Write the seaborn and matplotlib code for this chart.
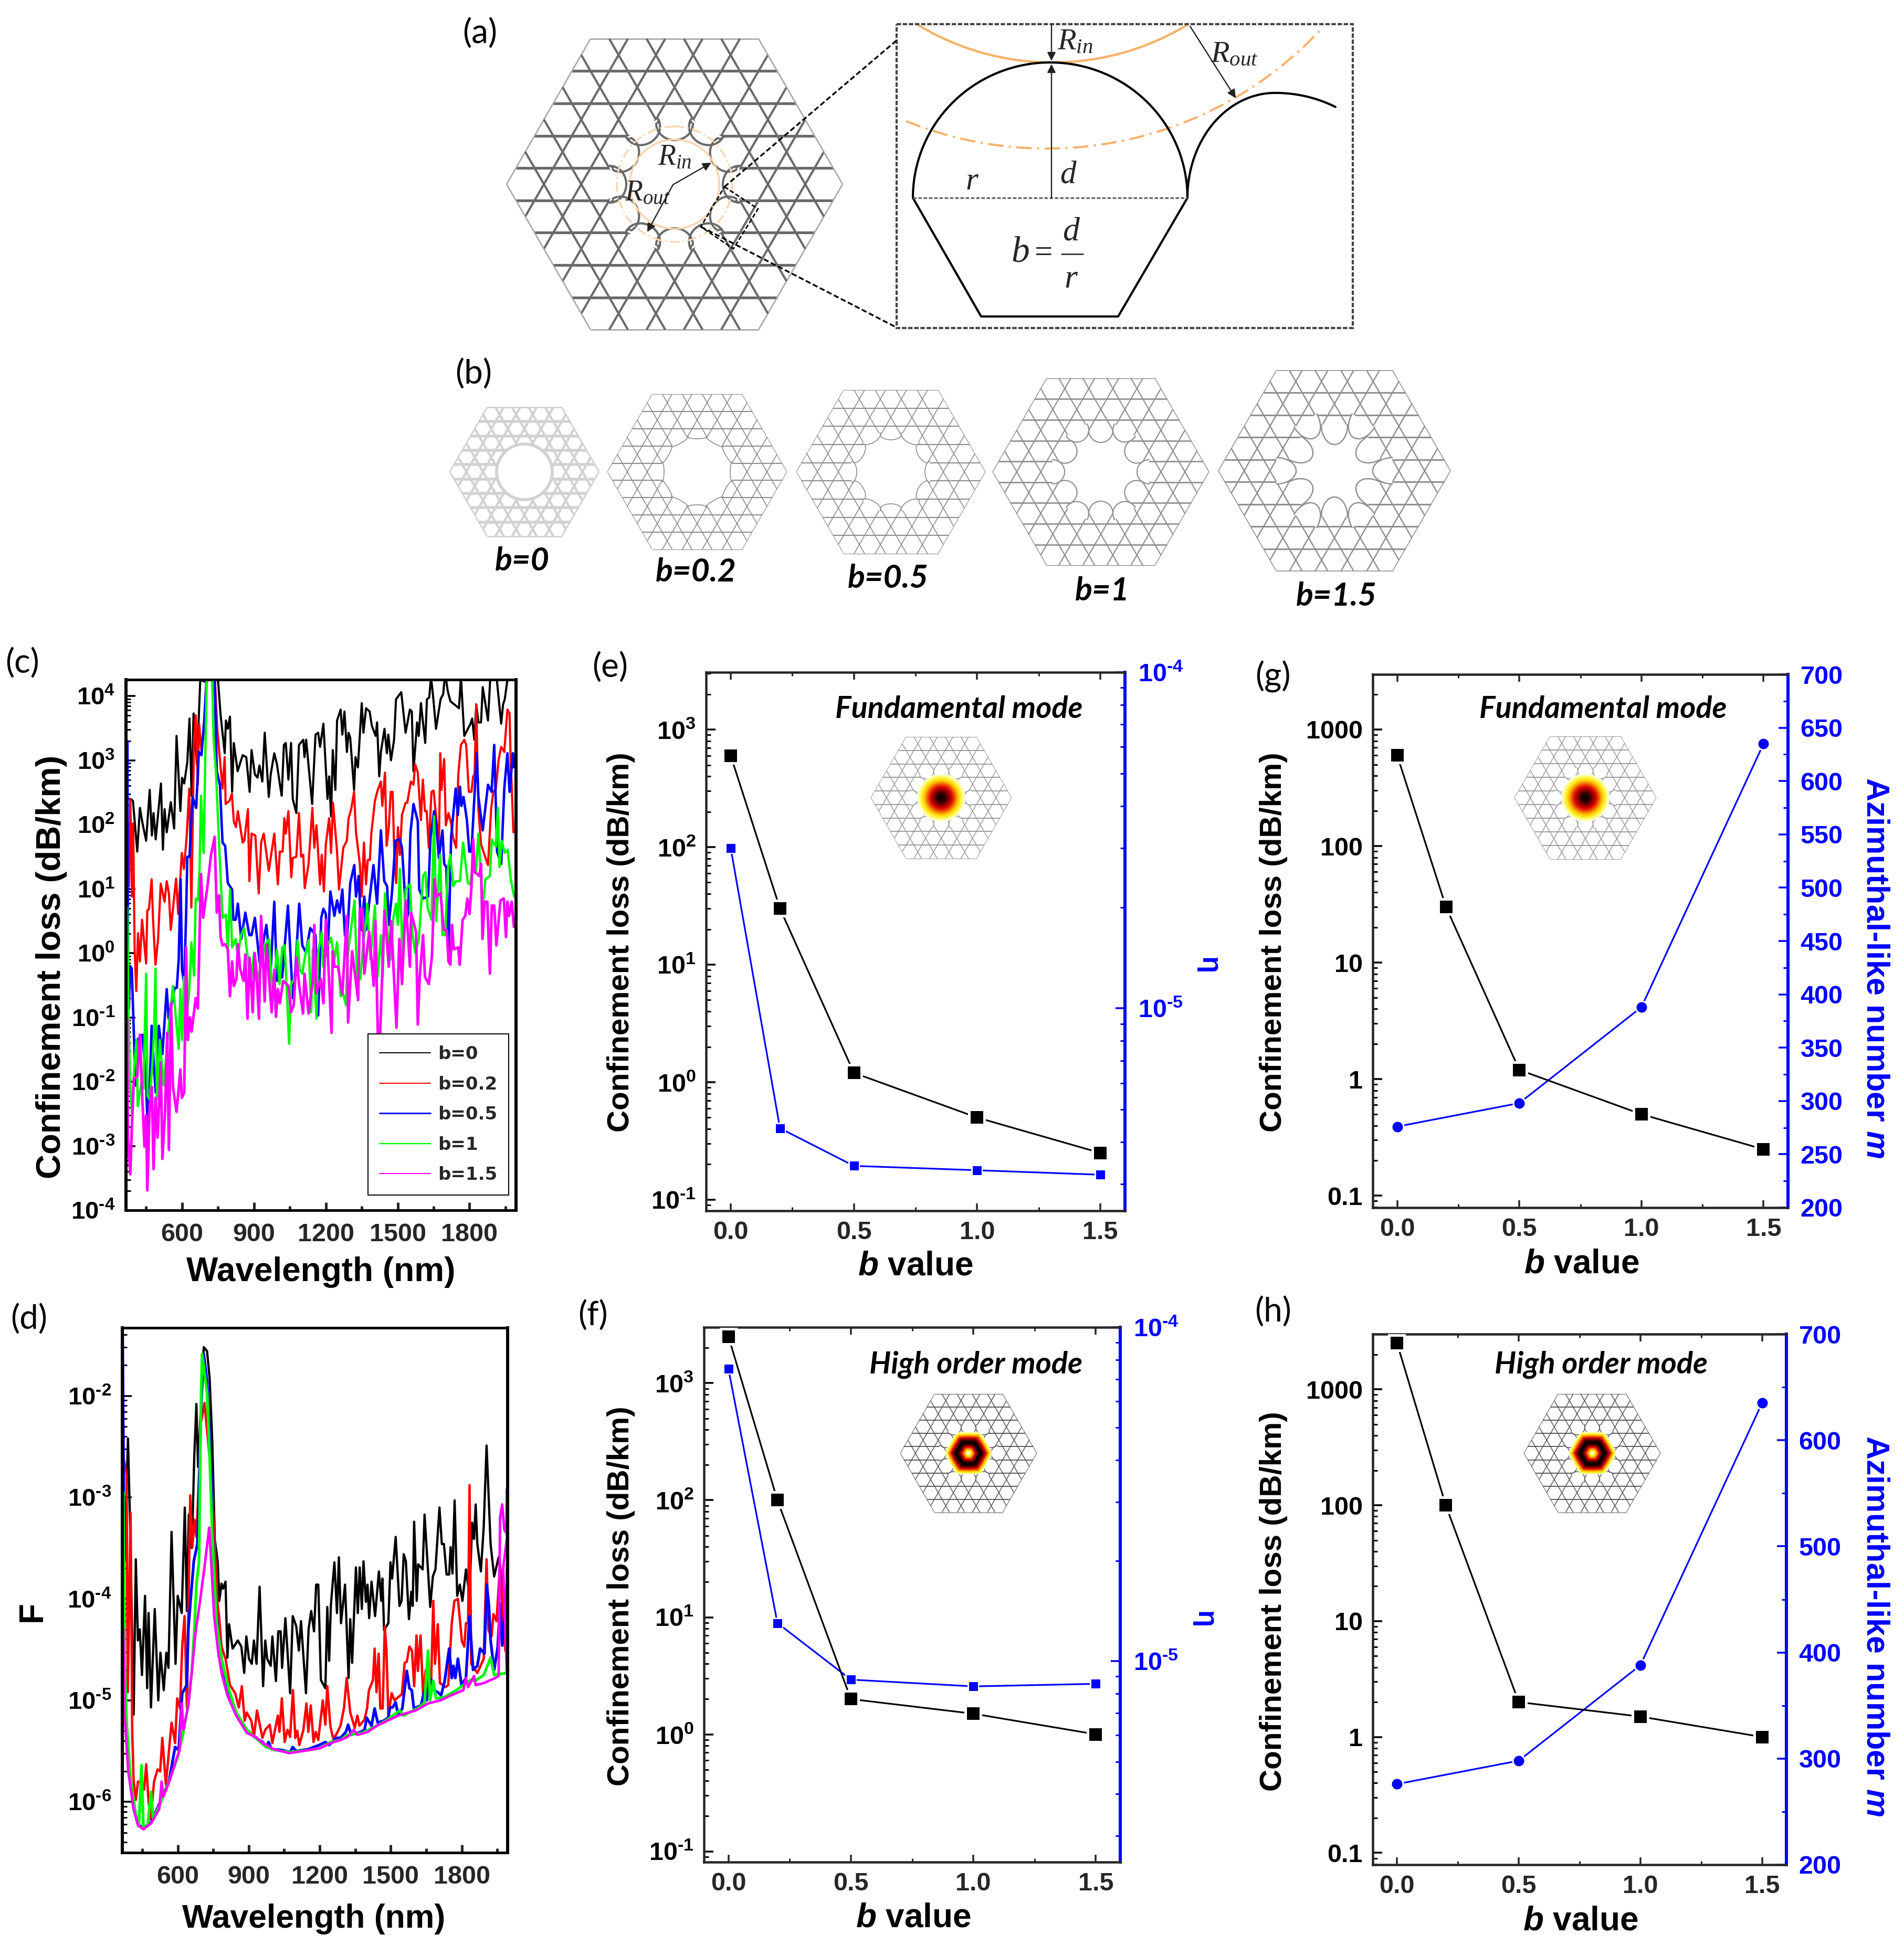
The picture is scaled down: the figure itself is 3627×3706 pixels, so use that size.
import numpy as np
import matplotlib
matplotlib.use("Agg")
import matplotlib.pyplot as plt
import seaborn as sns
from matplotlib.collections import LineCollection
from matplotlib.colors import LinearSegmentedColormap
from matplotlib.patches import Circle, Rectangle, Polygon
from matplotlib.ticker import FixedLocator, FuncFormatter, LogLocator, MultipleLocator, NullFormatter

# ------------------------------------------------------------------ data
# (wavelength nm, log10 of the value)
c_b0 = [(370,2.40),(385,2.40),(395,2.37),(413,1.58),(424,2.26),(435,2.02),(450,1.75),(465,2.54),(474,1.83),(481,2.18),(490,1.77),(512,2.64),(520,1.61),(527,2.24),(536,1.88),(553,2.35),(567,1.94),(577,3.38),(593,2.21),(600,2.73),(609,2.64),(622,2.97),(631,3.65),(640,2.45),(648,3.73),(662,2.94),(676,4.25),(699,4.22),(736,4.36),(750,4.25),(761,3.70),(778,3.11),(783,3.62),(791,3.49),(800,3.68),(809,2.51),(816,3.27),(832,2.83),(853,3.08),(868,3.05),(882,2.51),(890,3.16),(904,2.78),(915,2.73),(923,2.92),(935,2.67),(945,3.43),(962,2.43),(970,2.78),(985,3.11),(996,2.94),(1011,2.56),(1016,2.45),(1025,3.24),(1033,3.27),(1044,2.70),(1055,3.27),(1062,2.40),(1077,2.18),(1088,3.24),(1106,3.32),(1111,3.05),(1118,3.32),(1143,2.32),(1157,3.40),(1168,3.43),(1176,3.21),(1190,3.57),(1207,2.40),(1214,2.75),(1222,2.13),(1229,3.16),(1240,2.54),(1247,3.62),(1262,3.79),(1269,3.40),(1278,3.76),(1288,3.13),(1295,3.43),(1302,3.35),(1318,2.54),(1324,3.05),(1334,2.89),(1350,3.89),(1357,3.43),(1368,3.81),(1383,3.76),(1392,3.54),(1408,3.38),(1414,3.59),(1423,2.75),(1430,3.13),(1445,3.49),(1455,3.11),(1461,3.40),(1472,3.00),(1485,3.32),(1493,3.95),(1515,4.06),(1533,3.43),(1551,3.79),(1559,3.76),(1566,2.83),(1581,3.59),(1588,3.38),(1597,3.89),(1615,3.27),(1622,3.95),(1632,3.98),(1639,4.30),(1647,4.03),(1660,3.49),(1679,3.95),(1690,4.03),(1698,4.36),(1709,4.08),(1720,3.92),(1756,3.81),(1764,4.30),(1778,3.38),(1804,3.57),(1811,3.65),(1820,3.32),(1828,3.87),(1837,3.59),(1848,3.59),(1855,4.14),(1877,3.62),(1886,4.25),(1896,4.36),(1914,4.25),(1932,3.57),(1940,3.87),(1947,3.95),(1962,4.36),(1990,4.40)]
c_b02 = [(370,1.20),(378,1.04),(384,2.40),(391,0.88),(396,2.02),(402,0.06),(409,-0.59),(416,0.31),(424,-0.13),(433,0.52),(450,-0.16),(455,0.66),(462,0.69),(473,1.15),(479,0.52),(489,-0.18),(500,0.22),(511,1.08),(527,0.80),(536,1.12),(545,0.93),(553,0.36),(575,1.16),(584,0.61),(599,1.56),(608,1.31),(619,1.80),(630,2.56),(639,0.71),(650,3.32),(657,3.70),(666,2.62),(671,3.57),(681,3.16),(692,3.49),(706,4.36),(736,4.36),(747,3.49),(761,2.89),(769,2.56),(778,3.05),(782,2.32),(798,2.37),(808,2.48),(816,2.05),(825,1.96),(833,2.21),(853,1.72),(860,1.75),(875,2.24),(881,1.12),(890,1.86),(906,1.83),(920,0.93),(930,1.72),(941,1.86),(962,1.28),(985,1.86),(1000,1.07),(1008,1.58),(1020,1.58),(1027,2.10),(1033,1.86),(1044,2.21),(1056,1.18),(1062,1.48),(1077,1.50),(1088,2.18),(1097,1.50),(1106,1.53),(1112,1.01),(1128,1.39),(1144,2.26),(1152,1.64),(1161,1.99),(1176,1.07),(1183,1.53),(1192,0.96),(1200,1.69),(1214,2.10),(1222,1.56),(1230,2.34),(1247,1.58),(1255,0.99),(1273,1.64),(1288,1.75),(1295,2.10),(1306,2.24),(1318,2.51),(1326,1.88),(1342,1.39),(1350,0.88),(1359,1.72),(1368,1.07),(1375,1.45),(1384,1.45),(1390,1.86),(1405,2.37),(1416,2.53),(1430,2.67),(1436,2.29),(1447,2.81),(1454,1.67),(1463,1.96),(1471,2.51),(1479,2.51),(1487,1.39),(1494,1.09),(1501,1.96),(1509,1.53),(1518,2.15),(1533,2.34),(1540,2.34),(1555,2.67),(1566,2.62),(1573,2.94),(1584,2.81),(1597,2.07),(1605,2.70),(1614,2.21),(1621,2.21),(1630,1.64),(1641,2.51),(1650,2.53),(1665,1.96),(1672,1.64),(1678,3.11),(1683,2.54),(1694,3.02),(1701,1.99),(1712,2.18),(1723,2.02),(1731,1.80),(1744,1.64),(1753,2.78),(1764,3.24),(1778,3.32),(1786,3.24),(1797,2.51),(1808,2.51),(1815,2.75),(1821,2.78),(1828,3.87),(1837,2.24),(1848,1.69),(1877,1.37),(1890,2.24),(1899,2.51),(1910,2.56),(1921,3.00),(1932,3.21),(1945,3.13),(1958,3.79),(1967,3.73),(1972,2.94),(1978,2.40),(1983,1.88)]
c_b05 = [(372,3.30),(374,-0.20),(378,-0.86),(383,-0.20),(390,-0.24),(406,-2.06),(413,-1.35),(435,-1.27),(450,-2.00),(456,-2.71),(465,-2.11),(473,-1.13),(483,-1.79),(490,-2.17),(503,-1.13),(518,-1.57),(536,-0.56),(544,-1.02),(569,-0.54),(578,-0.54),(586,-0.10),(594,1.15),(600,-0.26),(609,-0.48),(617,0.61),(622,1.50),(631,1.50),(644,2.43),(659,2.26),(670,3.13),(681,3.08),(692,3.59),(703,4.30),(736,4.30),(745,2.83),(758,2.62),(769,1.72),(780,1.67),(791,1.09),(809,0.99),(814,0.52),(824,0.52),(833,0.77),(847,0.22),(864,0.63),(881,0.28),(890,0.28),(904,0.55),(924,-0.15),(935,0.09),(952,0.44),(970,-0.26),(985,0.80),(996,-0.43),(1018,-0.37),(1042,0.74),(1062,-0.70),(1073,-0.26),(1089,0.77),(1102,0.12),(1117,0.01),(1135,0.39),(1157,0.28),(1168,-0.97),(1181,0.55),(1190,0.69),(1200,0.61),(1207,-0.05),(1219,0.96),(1236,0.58),(1247,0.82),(1258,0.63),(1269,0.99),(1280,0.28),(1288,0.17),(1302,1.09),(1319,1.37),(1326,0.88),(1337,1.20),(1348,0.36),(1361,0.88),(1368,0.36),(1399,1.37),(1414,0.77),(1430,1.91),(1444,1.12),(1456,1.04),(1463,0.44),(1476,0.93),(1491,1.75),(1509,1.77),(1518,1.64),(1537,0.50),(1544,0.63),(1553,1.86),(1566,2.32),(1584,2.05),(1590,0.99),(1606,0.85),(1627,0.88),(1637,1.80),(1652,2.21),(1661,2.02),(1672,1.48),(1687,1.91),(1694,1.39),(1703,1.34),(1712,0.00),(1723,1.80),(1742,2.56),(1751,2.15),(1760,2.59),(1766,2.29),(1775,2.43),(1789,2.07),(1799,1.58),(1808,1.58),(1830,3.11),(1837,2.43),(1855,1.91),(1866,2.26),(1877,2.62),(1892,2.51),(1903,3.24),(1915,1.58),(1932,1.39),(1945,2.56),(1958,3.11),(1967,2.51),(1981,3.11),(1986,2.89)]
c_b1 = [(371,0.71),(377,-1.02),(384,-2.11),(391,-2.49),(400,-1.79),(410,-1.35),(415,-2.38),(432,-1.98),(439,-2.11),(450,-0.32),(456,-2.22),(465,-2.28),(476,-1.73),(483,-1.24),(489,-0.24),(495,-2.28),(507,-1.35),(523,-2.06),(545,-1.13),(562,-0.51),(586,-1.49),(593,-0.56),(600,-1.35),(608,-0.37),(619,-1.02),(630,-0.59),(639,0.17),(650,-0.35),(657,0.85),(666,0.82),(673,1.31),(679,2.45),(690,1.56),(703,4.30),(725,4.36),(732,3.32),(742,2.78),(754,1.75),(769,0.55),(783,0.60),(791,0.06),(800,0.99),(809,0.09),(824,0.22),(833,-0.05),(846,0.28),(859,0.39),(870,0.06),(886,-0.43),(901,0.01),(910,-0.43),(934,-0.15),(945,0.12),(963,0.22),(978,-0.75),(996,0.06),(1007,-0.48),(1018,0.09),(1028,0.12),(1036,-0.48),(1047,-1.41),(1055,-0.48),(1073,-0.37),(1082,0.20),(1091,-0.26),(1102,-0.32),(1113,-0.05),(1128,0.20),(1139,-0.92),(1146,0.06),(1161,-1.02),(1168,0.01),(1183,0.33),(1189,-0.21),(1203,0.06),(1222,0.24),(1236,-0.10),(1247,0.17),(1262,-0.67),(1273,-0.64),(1284,-0.81),(1291,-0.05),(1320,0.82),(1331,-0.45),(1344,-0.40),(1357,0.17),(1368,0.50),(1373,0.77),(1386,-0.10),(1405,0.74),(1416,-0.37),(1430,0.28),(1438,-0.37),(1447,0.93),(1463,0.06),(1471,-0.10),(1482,0.55),(1493,0.77),(1501,0.44),(1509,1.31),(1520,-0.05),(1533,0.99),(1551,1.07),(1562,0.28),(1573,0.01),(1588,0.20),(1606,1.20),(1616,1.26),(1625,0.71),(1641,0.52),(1652,2.13),(1661,0.50),(1677,1.53),(1687,0.28),(1698,0.28),(1709,1.31),(1720,1.53),(1732,1.04),(1742,1.12),(1760,1.12),(1773,1.72),(1793,1.09),(1803,1.07),(1815,1.42),(1826,1.26),(1837,1.86),(1855,0.71),(1866,1.15),(1885,1.20),(1893,1.77),(1910,1.66),(1918,2.26),(1925,1.34),(1934,1.75),(1947,1.56),(1959,1.61),(1972,1.15),(1986,0.88)]
c_b15 = [(371,-1.02),(374,-2.87),(384,-3.44),(391,-2.66),(399,-1.95),(413,-1.92),(424,-1.27),(435,-2.33),(443,-3.01),(450,-2.52),(455,-3.69),(465,-2.38),(474,-2.08),(481,-3.36),(489,-2.25),(498,-2.87),(511,-1.70),(518,-3.20),(529,-2.47),(538,-1.24),(545,-3.06),(554,-0.78),(562,-2.08),(577,-2.47),(593,-1.81),(599,-2.25),(609,-2.17),(617,0.09),(624,-1.35),(633,-1.00),(640,-1.22),(657,-0.70),(666,-0.86),(679,1.23),(688,0.55),(706,1.04),(721,1.53),(736,1.81),(745,0.63),(754,0.90),(761,0.25),(769,0.12),(780,0.14),(791,0.06),(800,-0.67),(809,-0.13),(816,-0.51),(827,-0.40),(833,0.14),(842,-0.24),(857,-0.43),(864,-0.02),(873,-1.02),(882,-0.07),(895,-0.92),(903,0.00),(910,-0.26),(921,-1.02),(930,0.58),(945,-0.75),(952,0.12),(974,-0.92),(985,-0.26),(992,-0.99),(1000,-0.56),(1008,-0.78),(1022,-0.43),(1044,-0.51),(1055,-0.92),(1066,-0.81),(1078,-0.07),(1088,-0.48),(1105,-0.94),(1111,-0.32),(1128,-0.94),(1146,-0.43),(1152,0.44),(1160,-0.62),(1179,-0.40),(1190,-0.78),(1200,0.52),(1211,-0.21),(1224,-1.24),(1229,0.03),(1236,-0.21),(1251,-0.21),(1269,-0.64),(1288,0.58),(1293,-1.08),(1310,0.03),(1335,-0.73),(1342,0.69),(1353,0.69),(1361,-0.32),(1381,0.33),(1400,-0.51),(1407,0.50),(1417,-1.24),(1427,-1.24),(1434,-0.50),(1445,0.66),(1463,-0.21),(1473,0.50),(1495,-1.16),(1507,0.22),(1518,-0.48),(1534,0.82),(1551,-0.21),(1556,0.63),(1577,0.33),(1584,-1.11),(1592,-0.37),(1606,0.28),(1614,-0.37),(1630,-0.48),(1643,-0.05),(1654,1.15),(1661,0.88),(1679,0.93),(1692,0.36),(1705,0.36),(1712,-0.13),(1720,-0.18),(1727,0.44),(1734,0.06),(1753,0.09),(1759,-0.18),(1771,0.52),(1782,0.58),(1791,0.85),(1800,0.61),(1808,1.04),(1815,1.77),(1822,1.26),(1841,1.20),(1848,1.39),(1854,0.22),(1863,0.80),(1874,0.80),(1885,-0.32),(1893,0.74),(1903,0.74),(1912,0.12),(1929,0.82),(1943,0.85),(1952,0.25),(1958,0.80),(1965,0.58),(1976,0.80),(1985,0.41)]

d_b0 = [(376,-3.63),(390,-2.42),(399,-3.29),(414,-5.14),(423,-3.61),(432,-4.41),(440,-4.30),(449,-4.75),(462,-3.97),(471,-4.88),(477,-4.14),(487,-5.07),(503,-4.10),(518,-5.00),(527,-4.53),(541,-4.90),(552,-4.53),(561,-4.68),(574,-3.34),(591,-4.64),(600,-3.97),(617,-4.14),(630,-3.10),(639,-4.12),(647,-3.17),(660,-3.50),(670,-2.60),(679,-2.08),(686,-2.70),(710,-1.52),(724,-1.56),(735,-1.83),(746,-2.44),(757,-3.42),(769,-3.63),(776,-4.02),(785,-3.85),(792,-3.90),(802,-3.83),(810,-4.58),(817,-4.25),(832,-4.49),(854,-4.41),(869,-4.47),(881,-4.73),(890,-4.37),(901,-4.59),(913,-4.64),(922,-4.41),(933,-4.64),(946,-3.88),(961,-4.86),(970,-4.41),(978,-4.59),(993,-4.66),(1000,-4.37),(1015,-4.81),(1025,-4.32),(1035,-4.32),(1041,-4.68),(1055,-4.19),(1075,-4.93),(1086,-4.17),(1101,-4.27),(1112,-4.51),(1121,-4.22),(1142,-4.93),(1153,-4.30),(1164,-4.12),(1176,-4.32),(1185,-3.86),(1194,-3.86),(1205,-4.80),(1224,-4.88),(1232,-4.08),(1240,-4.61),(1247,-4.07),(1262,-3.64),(1273,-4.14),(1281,-3.59),(1290,-4.24),(1307,-3.86),(1322,-4.78),(1329,-4.20),(1337,-4.63),(1353,-3.69),(1361,-4.14),(1369,-3.69),(1378,-4.10),(1385,-3.63),(1395,-4.03),(1402,-3.86),(1409,-4.19),(1419,-3.83),(1434,-4.17),(1450,-3.73),(1460,-4.02),(1465,-3.80),(1472,-4.31),(1490,-4.24),(1499,-3.64),(1506,-3.80),(1521,-3.39),(1537,-4.07),(1546,-4.02),(1555,-3.56),(1564,-3.63),(1577,-4.20),(1587,-3.93),(1593,-4.07),(1599,-3.24),(1610,-4.02),(1616,-3.66),(1635,-3.71),(1643,-3.17),(1667,-4.08),(1678,-3.78),(1689,-3.71),(1706,-3.10),(1716,-3.46),(1725,-3.46),(1736,-3.76),(1747,-3.76),(1753,-3.49),(1761,-3.75),(1770,-3.03),(1781,-3.97),(1792,-3.86),(1803,-4.02),(1818,-3.71),(1833,-3.97),(1844,-3.25),(1852,-3.41),(1859,-3.07),(1866,-3.46),(1881,-3.73),(1893,-3.29),(1905,-2.49),(1922,-3.46),(1937,-3.78),(1956,-3.59),(1975,-3.90),(1990,-4.00)]
d_b02 = [(370,-2.60),(384,-2.77),(389,-4.92),(401,-3.15),(408,-5.32),(414,-5.80),(423,-5.98),(432,-5.80),(440,-5.80),(458,-5.88),(467,-5.63),(477,-6.00),(486,-6.17),(500,-5.80),(515,-5.68),(526,-5.70),(535,-5.37),(550,-5.83),(574,-5.22),(589,-5.42),(598,-4.98),(610,-5.08),(619,-4.47),(629,-4.17),(639,-5.08),(645,-4.14),(653,-2.98),(662,-3.49),(671,-3.22),(679,-3.39),(688,-2.90),(698,-2.27),(713,-2.07),(727,-2.41),(742,-2.78),(754,-3.36),(769,-4.07),(775,-4.17),(785,-4.47),(802,-4.59),(821,-4.85),(843,-4.93),(858,-5.07),(871,-4.86),(883,-5.20),(892,-5.12),(911,-5.20),(922,-5.36),(935,-5.10),(958,-5.37),(970,-5.29),(989,-5.24),(1000,-5.42),(1011,-5.29),(1023,-5.15),(1030,-5.31),(1040,-4.98),(1052,-5.41),(1064,-5.29),(1075,-5.36),(1087,-4.90),(1097,-5.37),(1105,-5.30),(1114,-5.44),(1131,-5.29),(1144,-5.03),(1152,-5.31),(1162,-5.05),(1174,-5.41),(1183,-5.31),(1194,-5.39),(1213,-5.00),(1224,-5.24),(1232,-4.86),(1245,-5.25),(1256,-5.37),(1269,-5.34),(1288,-5.25),(1303,-5.07),(1314,-4.78),(1329,-5.12),(1348,-5.27),(1359,-5.15),(1368,-5.25),(1389,-5.19),(1400,-5.08),(1408,-4.90),(1425,-4.80),(1432,-4.49),(1440,-4.92),(1449,-4.54),(1456,-5.08),(1466,-5.08),(1475,-4.27),(1482,-4.51),(1490,-5.15),(1504,-4.93),(1516,-5.00),(1531,-4.97),(1547,-4.94),(1559,-4.63),(1568,-4.62),(1579,-4.47),(1590,-4.51),(1599,-4.86),(1609,-4.36),(1615,-4.71),(1626,-4.36),(1637,-4.95),(1648,-4.70),(1669,-4.97),(1680,-4.02),(1687,-4.64),(1699,-4.25),(1708,-4.83),(1732,-4.87),(1743,-4.85),(1758,-4.24),(1769,-4.02),(1784,-4.00),(1801,-4.42),(1811,-4.47),(1818,-4.24),(1827,-4.24),(1833,-2.88),(1840,-4.64),(1866,-4.73),(1893,-4.59),(1905,-3.61),(1913,-4.31),(1926,-4.37),(1934,-4.15),(1947,-4.22),(1962,-3.66),(1975,-4.20),(1984,-4.51),(1991,-3.66)]
d_b05 = [(367,-1.30),(372,-3.00),(376,-4.90),(384,-5.25),(399,-5.80),(414,-6.07),(432,-6.22),(455,-6.26),(488,-6.20),(526,-6.00),(563,-5.80),(589,-5.46),(604,-5.49),(619,-4.93),(638,-4.85),(645,-4.30),(656,-3.97),(668,-3.63),(683,-3.46),(690,-2.95),(699,-2.10),(710,-1.59),(724,-1.86),(739,-2.61),(754,-3.80),(769,-4.30),(787,-4.61),(810,-4.88),(847,-5.12),(892,-5.29),(929,-5.37),(959,-5.41),(974,-5.46),(984,-5.41),(996,-5.48),(1041,-5.49),(1075,-5.51),(1086,-5.46),(1101,-5.50),(1153,-5.48),(1198,-5.44),(1224,-5.41),(1240,-5.44),(1269,-5.37),(1288,-5.37),(1311,-5.31),(1320,-5.24),(1333,-5.34),(1374,-5.31),(1390,-5.29),(1398,-5.17),(1419,-5.25),(1432,-5.08),(1445,-5.22),(1471,-5.20),(1490,-5.17),(1497,-5.07),(1508,-5.07),(1521,-5.02),(1531,-5.14),(1549,-5.08),(1568,-4.71),(1579,-4.88),(1589,-4.90),(1598,-5.08),(1628,-5.05),(1643,-4.90),(1652,-5.00),(1660,-4.78),(1672,-4.80),(1684,-4.90),(1699,-4.92),(1713,-4.95),(1728,-4.81),(1747,-4.49),(1758,-4.78),(1765,-4.66),(1773,-4.78),(1784,-4.59),(1799,-4.85),(1818,-4.78),(1833,-4.17),(1848,-4.70),(1866,-4.66),(1878,-4.49),(1896,-4.54),(1906,-3.86),(1915,-4.07),(1922,-4.41),(1937,-4.70),(1952,-4.48),(1962,-4.05),(1971,-4.46),(1982,-4.14),(1991,-4.08)]
d_b1 = [(370,-2.95),(376,-4.65),(384,-5.22),(402,-5.80),(421,-6.10),(436,-6.24),(447,-5.64),(455,-6.25),(473,-6.24),(487,-5.90),(497,-6.17),(526,-6.02),(563,-5.80),(600,-5.56),(619,-5.37),(642,-5.08),(660,-4.71),(671,-4.27),(679,-3.86),(690,-3.63),(698,-2.10),(703,-1.59),(724,-1.97),(735,-2.61),(746,-3.36),(765,-4.24),(787,-4.61),(817,-4.90),(847,-5.12),(892,-5.29),(929,-5.37),(974,-5.46),(1011,-5.49),(1075,-5.51),(1153,-5.49),(1202,-5.47),(1247,-5.41),(1288,-5.39),(1318,-5.34),(1381,-5.32),(1441,-5.25),(1486,-5.19),(1514,-5.14),(1538,-5.10),(1553,-5.15),(1620,-5.07),(1643,-5.02),(1658,-4.51),(1666,-5.00),(1680,-4.81),(1691,-4.98),(1725,-4.97),(1777,-4.90),(1807,-4.85),(1837,-4.80),(1855,-4.81),(1893,-4.75),(1922,-4.58),(1937,-4.75),(1991,-4.73)]
d_b15 = [(370,-4.30),(376,-5.15),(391,-5.70),(414,-6.07),(432,-6.23),(455,-6.27),(488,-6.21),(522,-6.07),(532,-5.80),(539,-5.95),(563,-5.81),(593,-5.59),(608,-5.49),(617,-5.03),(624,-5.29),(645,-5.05),(660,-4.71),(675,-4.34),(694,-4.03),(713,-3.69),(733,-3.30),(742,-3.66),(754,-4.17),(772,-4.54),(787,-4.75),(810,-4.95),(847,-5.15),(892,-5.32),(929,-5.36),(959,-5.42),(1004,-5.48),(1071,-5.52),(1153,-5.49),(1202,-5.47),(1247,-5.42),(1288,-5.39),(1318,-5.36),(1344,-5.29),(1359,-5.34),(1404,-5.31),(1441,-5.25),(1486,-5.20),(1531,-5.15),(1605,-5.10),(1658,-5.03),(1710,-5.00),(1755,-4.95),(1807,-4.90),(1818,-4.78),(1827,-4.87),(1852,-4.76),(1859,-4.85),(1893,-4.83),(1941,-4.78),(1956,-4.76),(1962,-3.20),(1971,-3.07),(1980,-3.32),(1988,-3.35),(1991,-2.92),(1991,-3.40),(1975,-3.70),(1991,-4.74)]

b_values = [0.0, 0.2, 0.5, 1.0, 1.5]
e_loss = [600, 30, 1.2, 0.5, 0.25]
e_eta = [3.0e-5, 4.4e-6, 3.4e-6, 3.3e-6, 3.2e-6]
f_loss = [2500, 100, 2, 1.5, 1]
f_eta = [7.5e-5, 1.3e-5, 8.8e-6, 8.4e-6, 8.55e-6]
azimuthal_m = [276, 298, 388, 635]
azimuthal_b = [0.0, 0.5, 1.0, 1.5]

curve_labels = ["b=0", "b=0.2", "b=0.5", "b=1", "b=1.5"]
curve_colors = ["#000000", "#FF0000", "#0000FF", "#00FF00", "#FF00FF"]
wave_major = [600, 900, 1200, 1500, 1800]
wave_minor = [450, 750, 1050, 1350, 1650, 1950]

# ------------------------------------------------------------------ style
W, H = 3627, 3706
PX = 0.72  # points per pixel at dpi 100
sns.set_theme(style="ticks")
plt.rcParams.update({
    "font.family": ["Liberation Sans", "DejaVu Sans"],
    "font.weight": "bold", "axes.labelweight": "bold",
    "mathtext.fontset": "custom", "mathtext.rm": "Liberation Serif:weight=400",
    "mathtext.it": "Liberation Serif:style=italic:weight=400", "mathtext.bf": "Liberation Sans:bold",
    "mathtext.bfit": "Liberation Sans:italic:bold", "mathtext.default": "it",
    "axes.facecolor": "white", "figure.facecolor": "white",
})
fig = plt.figure(figsize=(W / 100, H / 100), dpi=100)

overlay = fig.add_axes([0, 0, 1, 1], zorder=20)
overlay.set_xlim(0, W)
overlay.set_ylim(H, 0)
overlay.axis("off")
overlay.patch.set_alpha(0)
PXT = overlay.transData


def box(l, t, r, b):
    return fig.add_axes([l / W, 1 - b / H, (r - l) / W, (b - t) / H])


def place_label(ax, which, x, y, size, color="black", rot=None):
    lab = ax.yaxis.label if which == "y" else ax.xaxis.label
    lab.set_fontsize(size)
    lab.set_color(color)
    lab.set_ha("center")
    lab.set_va("center")
    if rot is not None:
        lab.set_rotation(rot)
    (ax.yaxis if which == "y" else ax.xaxis).set_label_coords(x, y, transform=PXT)


def pow_fmt(v, _):
    n = int(round(np.log10(v)))
    return r"$\mathbf{10^{%s%d}}$" % ("\u2010" if n < 0 else "", abs(n))


def plain_fmt(v, _):
    return "%g" % v


def log_ticks(ax, formatter, color="black", pad=14, size=35):
    ax.yaxis.set_major_locator(LogLocator(base=10, numticks=30))
    ax.yaxis.set_minor_locator(LogLocator(base=10, subs=np.arange(2, 10), numticks=30))
    ax.yaxis.set_major_formatter(FuncFormatter(formatter))
    ax.yaxis.set_minor_formatter(NullFormatter())
    ax.tick_params(axis="y", which="major", direction="in", length=18 * PX, width=3.5 * PX,
                   labelsize=size, pad=pad, color=color, labelcolor=color)
    ax.tick_params(axis="y", which="minor", direction="in", length=9 * PX, width=3 * PX, color=color)


# ------------------------------------------------------------------ c, d
def spectrum(ax, series, ylim, lw):
    ax.set_yscale("log")
    for s, col, lab, w in zip(series, curve_colors, curve_labels, lw):
        xs = [p[0] for p in s]
        ys = [10.0 ** p[1] for p in s]
        sns.lineplot(x=xs, y=ys, ax=ax, color=col, linewidth=w, estimator=None, sort=False, label=lab, legend=False)
    ax.set_xlim(366, 1994)
    ax.set_ylim(*ylim)
    ax.xaxis.set_major_locator(FixedLocator(wave_major))
    ax.xaxis.set_minor_locator(FixedLocator(wave_minor))
    ax.tick_params(axis="x", which="major", direction="in", length=15 * PX, width=5 * PX, labelsize=35, pad=17)
    ax.tick_params(axis="x", which="minor", direction="in", length=8 * PX, width=5 * PX)
    log_ticks(ax, pow_fmt, pad=15, size=34)
    for k, sp in ax.spines.items():
        sp.set_linewidth(5 * PX)
        sp.set_color("black")
    ax.spines["left"].set_linewidth(6 * PX)
    ax.spines["right"].set_linewidth(6 * PX)
    ax.set_xlabel("Wavelength (nm)")


axc = box(240, 1295, 983, 2306)
spectrum(axc, [c_b0, c_b02, c_b05, c_b1, c_b15], (1e-4, 1.8e4), [2.9, 3.0, 3.4, 3.2, 3.6])
axc.set_ylabel("Confinement loss (dB/km)")
place_label(axc, "y", 98, 1842, 47)
place_label(axc, "x", 611, 2424, 46)
handles, labels = axc.get_legend_handles_labels()
leg = axc.legend(handles, labels, loc="lower left", bbox_to_anchor=(701, 2277), bbox_transform=PXT,
                 fancybox=False, framealpha=1, edgecolor="black", borderaxespad=0, borderpad=0.64,
                 handlelength=2.85, handletextpad=0.42, labelspacing=0.72,
                 prop={"family": "DejaVu Sans", "weight": "bold", "size": 24.5})
leg.get_frame().set_linewidth(2 * PX)
for ln, w in zip(leg.get_lines(), [2, 2, 3, 2.4, 2]):
    ln.set_linewidth(w * PX)

axd = box(233, 2530, 967, 3530)
spectrum(axd, [d_b0, d_b02, d_b05, d_b1, d_b15], (10 ** -6.5, 10 ** -1.33), [3.1, 3.3, 3.8, 3.8, 3.5])
axd.set_ylabel("F")
place_label(axd, "y", 62, 3071, 46)
place_label(axd, "x", 598, 3656, 45)


# ------------------------------------------------------------------ e - h
def points(ax, xs, ys, color, marker, size, halo, zorder):
    sns.lineplot(x=xs, y=ys, ax=ax, color=color, linewidth=3.2 * PX, estimator=None, sort=False, legend=False, zorder=zorder)
    sns.scatterplot(x=xs, y=ys, ax=ax, color="white", marker=marker, s=((size + halo) * PX) ** 2, linewidth=0, legend=False, zorder=zorder + 0.1)
    sns.scatterplot(x=xs, y=ys, ax=ax, color=color, marker=marker, s=(size * PX) ** 2, linewidth=0, legend=False, zorder=zorder + 0.2)


def mode_axes(l, t, r, b, ylim, loss, fmt):
    ax = box(l, t, r, b)
    ax.set_yscale("log")
    ax.set_xlim(-0.1, 1.6)
    ax.set_ylim(*ylim)
    ax.xaxis.set_major_locator(MultipleLocator(0.5))
    ax.xaxis.set_minor_locator(MultipleLocator(0.25))
    ax.xaxis.set_major_formatter(FuncFormatter(lambda v, _: "%.1f" % v))
    ax.tick_params(axis="x", which="major", top=True, direction="in", length=14 * PX, width=3.5 * PX, labelsize=35, pad=14)
    ax.tick_params(axis="x", which="minor", top=True, direction="in", length=7 * PX, width=3 * PX)
    log_ticks(ax, fmt, pad=14)
    for sp in ax.spines.values():
        sp.set_linewidth(4.5 * PX)
    ax.spines["right"].set_visible(False)
    ax.set_xlabel(r"$\mathbfit{b}$ value")
    ax.set_ylabel("Confinement loss (dB/km)")
    ax2 = ax.twinx()
    for k, sp in ax2.spines.items():
        sp.set_visible(k == "right")
    ax2.spines["right"].set_color("#0000FF")
    ax2.spines["right"].set_linewidth(6 * PX)
    ax.set_zorder(ax2.get_zorder() + 1)
    ax.patch.set_alpha(0)
    return ax, ax2


def blue_linear(ax2, major, minor):
    ax2.set_ylim(200, 700)
    ax2.yaxis.set_major_locator(MultipleLocator(major))
    ax2.yaxis.set_minor_locator(MultipleLocator(minor))
    ax2.tick_params(axis="y", which="major", direction="in", length=18 * PX, width=3.5 * PX, color="#0000FF",
                    labelcolor="#0000FF", labelsize=35, pad=17)
    ax2.tick_params(axis="y", which="minor", direction="in", length=9 * PX, width=3 * PX, color="#0000FF")


def blue_log(ax2):
    ax2.set_yscale("log")
    ax2.set_ylim(2.5e-6, 1e-4)
    log_ticks(ax2, pow_fmt, color="#0000FF", pad=18)


axe, axe2 = mode_axes(1345, 1281, 2143, 2307, (0.0805, 3070), e_loss, pow_fmt)
points(axe2, b_values, e_eta, "#0000FF", "s", 17, 6, 3)
blue_log(axe2)
points(axe, b_values, e_loss, "black", "s", 24, 10, 4)
axe2.set_ylabel("η", rotation=270)
place_label(axe2, "y", 2302, 1839, 38, "#0000FF")
place_label(axe, "y", 1183, 1795, 42)
place_label(axe, "x", 1744, 2413, 46)

axf, axf2 = mode_axes(1341, 2529, 2134, 3548, (0.081, 3000), f_loss, pow_fmt)
points(axf2, b_values, f_eta, "#0000FF", "s", 17, 6, 3)
blue_log(axf2)
points(axf, b_values, f_loss, "black", "s", 24, 10, 4)
axf2.set_ylabel("η", rotation=270)
place_label(axf2, "y", 2294, 3085, 38, "#0000FF")
place_label(axf, "y", 1183, 3041, 42)
place_label(axf, "x", 1740, 3654, 46)

axg, axg2 = mode_axes(2615, 1285, 3406, 2301, (0.079, 2970), e_loss, plain_fmt)
points(axg2, azimuthal_b, azimuthal_m, "#0000FF", "o", 20, 6, 3)
blue_linear(axg2, 50, 25)
points(axg, b_values, e_loss, "black", "s", 24, 10, 4)
axg2.set_ylabel(r"Azimuthal-like number $\mathbfit{m}$", rotation=270)
place_label(axg2, "y", 3572, 1844, 44, "#0000FF")
place_label(axg, "y", 2426, 1795, 42)
place_label(axg, "x", 3013, 2408, 46)

axh, axh2 = mode_axes(2615, 2542, 3403, 3553, (0.079, 3000), f_loss, plain_fmt)
points(axh2, azimuthal_b, azimuthal_m, "#0000FF", "o", 20, 6, 3)
blue_linear(axh2, 100, 50)
points(axh, b_values, f_loss, "black", "s", 24, 10, 4)
axh2.set_ylabel(r"Azimuthal-like number $\mathbfit{m}$", rotation=270)
place_label(axh2, "y", 3572, 3098, 44, "#0000FF")
place_label(axh, "y", 2426, 3051, 42)
place_label(axh, "x", 3011, 3660, 46)


# ------------------------------------------------------------------ lattices
def lattice(cx, cy, R, color="#8a8a8a", lw=1.5, z=2, petals=None, core=None, edge=None):
    """petals = (tip radius A, tip radius B, half width, b); core = plain circular core radius."""
    ap = R * np.sqrt(3) / 2
    p = ap / 4.5
    normals = [np.array([np.cos(a), np.sin(a)]) for a in np.radians([90, 30, 150])]
    segs, wid, cols = [], [], []
    for idx, n in enumerate(normals):
        d = np.array([-n[1], n[0]])
        for k in np.arange(-4.5, 5):
            o = n * k * p
            lo, hi = -10 * R, 10 * R
            for m in normals:
                den = d @ m
                if abs(den) < 1e-9:
                    continue
                t1, t2 = sorted([(ap - o @ m) / den, (-ap - o @ m) / den])
                lo, hi = max(lo, t1), min(hi, t2)
            if hi > lo:
                segs.append([(cx + o[0] + d[0] * lo, cy + o[1] + d[1] * lo),
                             (cx + o[0] + d[0] * hi, cy + o[1] + d[1] * hi)])
                outer = abs(k) > 4
                wid.append(lw * (0.65 if outer else (1.25 if idx == 0 else 1.0)))
                cols.append(edge if (outer and edge) else color)
    overlay.add_collection(LineCollection(segs, colors=cols, linewidths=wid, zorder=z))
    if core is not None:
        overlay.add_patch(Circle((cx, cy), core, fc="white", ec=color, lw=lw * 1.3, zorder=z + 0.1))
        return
    ta, tb, half, b = petals
    tip = b * half
    t = np.radians(np.linspace(90, 270, 50))
    ring = []
    arcs = []
    for deg in np.arange(0, 360, 30):
        phi = np.radians(deg)
        tr = ta if deg % 60 == 30 else tb
        base = tr + tip
        u = np.array([np.cos(phi), np.sin(phi)])
        v = np.array([-u[1], u[0]])
        ring += [u * base - v * half, u * base + v * half]
        pts = u * base + np.outer(np.cos(t) * tip, u) + np.outer(np.sin(t) * half, v)
        arcs.append(pts)
    ring = np.array(ring) + [cx, cy]
    overlay.add_patch(Polygon(ring, closed=True, fc="white", ec="none", zorder=z + 0.1))
    for pts in arcs:
        overlay.plot(cx + pts[:, 0], cy + pts[:, 1], color=color, lw=lw, zorder=z + 0.2)


def heat_spot(cx, cy, rad, kind):
    g = np.linspace(-1, 1, 241)
    xx, yy = np.meshgrid(g, g)
    rr = np.hypot(xx, yy)
    hexr = np.maximum.reduce([np.abs(yy) / 0.866, np.abs(yy * 0.5 + xx * 0.866) / 0.866, np.abs(yy * 0.5 - xx * 0.866) / 0.866])
    if kind == "fund":
        val = np.clip(rr, 0, 1)
        alpha = rr < 1
    else:
        rh = 0.8 * hexr + 0.2 * rr
        val = np.clip(np.abs(rh - 0.5) / 0.5, 0, 1)
        val = np.where(rh < 0.5, val * 1.05, val)
        alpha = rh < 1
    cmap = LinearSegmentedColormap.from_list("mode", [(0, "#000000"), (0.18, "#300000"), (0.45, "#E00000"),
                                                      (0.72, "#FFD000"), (0.88, "#FFFF60"), (1, "#FFFFFF")])
    rgba = cmap(np.clip(val, 0, 1))
    rgba[..., 3] = alpha
    overlay.imshow(rgba, extent=(cx - rad, cx + rad, cy + rad, cy - rad), aspect="auto", zorder=5, interpolation="bilinear")
    overlay.set_xlim(0, W)
    overlay.set_ylim(H, 0)


# panel (a) lattice
ORANGE = "#F6B26B"
PALE = "#FAD2A8"
lattice(1285, 351, 320, color="#6a6a6a", lw=3.0, petals=(84, 92, 35, 0.9), edge="#a8a8a8")
overlay.add_patch(Circle((1285, 351), 85, fc="none", ec=PALE, lw=2.4, zorder=4))
overlay.add_patch(Circle((1285, 351), 110, fc="none", ec=PALE, lw=2.2, ls=(0, (6, 2, 1, 2)), zorder=4))
overlay.add_patch(Polygon([(1380, 356), (1444, 398), (1397, 474), (1335, 432)], closed=True, fc="none", ec="black", lw=2, ls=(0, (3, 1.5)), zorder=6))


def arrow(x0, y0, x1, y1, lw=1.7):
    overlay.annotate("", xy=(x1, y1), xytext=(x0, y0), xycoords="data",
                     arrowprops=dict(arrowstyle="-|>", color="#222222", lw=lw, mutation_scale=24, shrinkA=0, shrinkB=0), zorder=7)


arrow(1282, 352, 1355, 310)
arrow(1282, 352, 1233, 442)
for xy, s, fs in [((1285, 300), r"$R_{in}$", 40), ((1233, 368), r"$R_{out}$", 40), ((2048, 80), r"$R_{in}$", 42), ((2352, 104), r"$R_{out}$", 42),
                  ((1852, 346), r"$r$", 44), ((2035, 334), r"$d$", 44), ((1943, 482), r"$b$", 50), ((1988, 484), "=", 44),
                  ((2041, 442), r"$d$", 46), ((2041, 533), r"$r$", 46)]:
    overlay.text(xy[0], xy[1], s, ha="center", va="center", fontsize=fs, family="Liberation Serif", weight="normal", zorder=8)

# magnified window of (a)
overlay.add_patch(Rectangle((1708, 46), 869, 579, fc="none", ec="#444444", lw=3, ls=(0, (2, 0.8)), zorder=6))
overlay.plot([1380, 1708], [356, 77], color="black", lw=2.4, ls=(0, (3, 1.5)), zorder=6)
overlay.plot([1335, 1708], [432, 624], color="black", lw=2.4, ls=(0, (3, 1.5)), zorder=6)
th = np.radians(np.linspace(180, 360, 120))
overlay.plot(2000.5 + 261.5 * np.cos(th), 377 + 258 * np.sin(th), color="black", lw=3, zorder=5)
th = np.radians(np.linspace(180, 270, 60))
overlay.plot(2429 + 167 * np.cos(th), 377 + 200 * np.sin(th), color="black", lw=3, zorder=5)
th = np.radians(np.linspace(270, 300, 30))
overlay.plot(2429 + 230 * np.cos(th), 377 + 200 * np.sin(th), color="black", lw=3, zorder=5)
overlay.plot([1739, 1869, 2130, 2262], [377, 603, 603, 377], color="black", lw=3, zorder=5)
overlay.plot([1739, 2262], [377, 377], color="#666666", lw=2.4, ls=(0, (2, 1)), zorder=5)
xs = np.linspace(1750, 2264, 120)
overlay.plot(xs, -376 + np.sqrt(495 ** 2 - (xs - 2005) ** 2), color=ORANGE, lw=3.2, zorder=4)
xs = np.linspace(1726, 2518, 160)
overlay.plot(xs, -431 + np.sqrt(714 ** 2 - (xs - 1994) ** 2), color=ORANGE, lw=3, ls=(0, (7, 2.5, 1, 2.5)), zorder=4)
arrow(2003, 47, 2003, 116)
arrow(2003, 377, 2003, 122)
arrow(2267, 50, 2354, 187)
overlay.plot([2022, 2063], [484, 484], color="#333333", lw=2, zorder=6)

# panel (b) lattices and captions
for cx, cy, R, pet, col, lw in [(1328, 899, 171, (63, 63, 19, 0.2), "#8c8c8c", 1.2), (1697, 899, 180, (61, 65, 20, 0.5), "#8c8c8c", 1.2),
                                (2097, 899, 206, (56, 69, 23, 1.0), "#909090", 1.6), (2542, 897, 221, (50, 73, 25, 1.5), "#909090", 1.8)]:
    lattice(cx, cy, R, color=col, lw=lw, petals=pet)
lattice(999, 899, 142, color="#d2d2d2", lw=3.2, core=53)

italic = dict(family="Lato", style="italic", weight="bold", ha="center", va="center", color="black")
for x, y, s in [(995, 1069, "b=0"), (1326, 1090, "b=0.2"), (1692, 1102, "b=0.5"), (2100, 1126, "b=1"), (2546, 1136, "b=1.5")]:
    overlay.text(x, y, s, fontsize=44, **italic)

# insets
for cx, cy, R, kind, col in [(1793, 1520, 134, "fund", "#9a9a9a"), (3020, 1520, 135, "fund", "#9a9a9a"),
                             (1845, 2769, 130, "high", "#555555"), (3033, 2769, 130, "high", "#555555")]:
    lattice(cx, cy, R, color=col, lw=1.1, petals=(0.28 * R, 0.33 * R, 0.11 * R, 0.9))
    heat_spot(cx, cy, 46 if kind == "fund" else 46, kind)

for x, y, s in [(1827, 1352, "Fundamental mode"), (3054, 1352, "Fundamental mode"), (1859, 2600, "High order mode"), (3050, 2600, "High order mode")]:
    overlay.text(x, y, s, fontsize=41.5, **italic)

for x, y, s in [(914, 64, "(a)"), (902, 713, "(b)"), (42, 1264, "(c)"), (55, 2514, "(d)"),
                (1162, 1272, "(e)"), (1129, 2507, "(f)"), (2425, 1289, "(g)"), (2425, 2500, "(h)")]:
    overlay.text(x, y, s, fontsize=46, family="Lato", weight="normal", ha="center", va="center", color="black")

fig.savefig("out.png", dpi=100, facecolor="white")
